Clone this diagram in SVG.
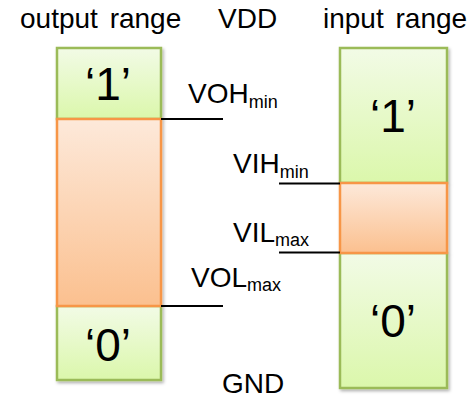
<svg xmlns="http://www.w3.org/2000/svg" width="471" height="398" viewBox="0 0 471 398">
<defs>
<linearGradient id="gGreen" x1="0" y1="0" x2="0" y2="1">
<stop offset="0" stop-color="#f2fbe6"/>
<stop offset="1" stop-color="#dbf7ab"/>
</linearGradient>
<linearGradient id="gOrange" x1="0" y1="0" x2="0" y2="1">
<stop offset="0" stop-color="#fde9da"/>
<stop offset="1" stop-color="#fbc08f"/>
</linearGradient>
<filter id="sh" x="-10%" y="-10%" width="130%" height="130%">
<feDropShadow dx="1.5" dy="2" stdDeviation="1.5" flood-color="#000" flood-opacity="0.3"/>
</filter>
</defs>
<style>
.g{fill:url(#gGreen);stroke:#9bbb59;stroke-width:2.5}
.o{fill:url(#gOrange);stroke:#f79646;stroke-width:2.5}
.t{font-family:"Liberation Sans",Arial,sans-serif;font-size:28px;fill:#000}
.s{font-size:18px}
.big{font-family:"Liberation Sans",Arial,sans-serif;font-size:46px;fill:#000;text-anchor:middle}
.ln{stroke:#000;stroke-width:2;fill:none}
</style>
<text class="t" x="20" y="28" word-spacing="4">output range</text>
<text class="t" x="218" y="28">VDD</text>
<text class="t" x="323" y="28" word-spacing="4">input range</text>
<g id="output-range" filter="url(#sh)">
<rect class="g" x="57" y="48" width="104" height="71"/>
<rect class="g" x="57" y="306" width="104" height="74"/>
<rect class="o" x="57" y="119" width="104" height="187"/>
</g>
<g id="output-labels">
<text class="big" x="108" y="100">‘1’</text>
<text class="big" x="108" y="361">‘0’</text>
</g>
<g id="input-range" filter="url(#sh)">
<rect class="g" x="340" y="48" width="107" height="135"/>
<rect class="g" x="340" y="253" width="107" height="135"/>
<rect class="o" x="340" y="183" width="107" height="70"/>
</g>
<g id="input-labels">
<text class="big" x="393" y="132">‘1’</text>
<text class="big" x="393" y="337">‘0’</text>
</g>
<g id="connectors">
<line class="ln" x1="161" y1="119" x2="223" y2="119"/>
<line class="ln" x1="161" y1="306" x2="223" y2="306"/>
<line class="ln" x1="279" y1="183.5" x2="340" y2="183.5"/>
<line class="ln" x1="279" y1="252.5" x2="340" y2="252.5"/>
</g>
<g id="thresholds">
<text class="t" x="188" y="103">VOH<tspan class="s" dy="5">min</tspan></text>
<text class="t" x="233" y="173">VIH<tspan class="s" dy="5">min</tspan></text>
<text class="t" x="233" y="242">VIL<tspan class="s" dy="4">max</tspan></text>
<text class="t" x="191" y="287">VOL<tspan class="s" dy="4">max</tspan></text>
<text class="t" x="222" y="393">GND</text>
</g>
</svg>
